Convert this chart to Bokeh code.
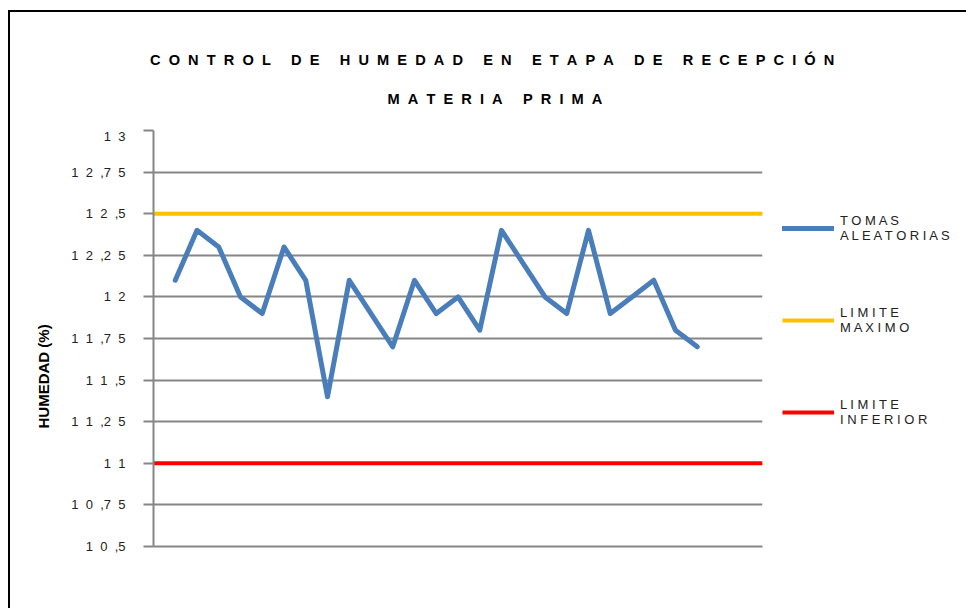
from bokeh.plotting import figure
from bokeh.layouts import row, column
from bokeh.models import Legend, LegendItem, Title, FixedTicker
from bokeh.embed import file_html
from bokeh.resources import INLINE

# ---- data ----
SAMPLE = list(range(1, 26))
HUMEDAD = [12.1, 12.4, 12.3, 12.0, 11.9, 12.3, 12.1, 11.4, 12.1, 11.9, 11.7, 12.1, 11.9,
           12.0, 11.8, 12.4, 12.2, 12.0, 11.9, 12.4, 11.9, 12.0, 12.1, 11.8, 11.7]
LIMITE_MAXIMO = 12.5
LIMITE_INFERIOR = 11.0
Y_TICKS = [10.5, 10.75, 11.0, 11.25, 11.5, 11.75, 12.0, 12.25, 12.5, 12.75, 13.0]
Y_TICK_LABELS = ["1 0 ,5", "1 0 ,7 5", "1 1", "1 1 ,2 5", "1 1 ,5", "1 1 ,7 5",
                 "1 2", "1 2 ,2 5", "1 2 ,5", "1 2 ,7 5", "1 3"]
X_START, X_END = 0, 28
Y_START, Y_END = 10.5, 13.0
TITLE_1 = "CONTROL DE HUMEDAD EN ETAPA DE RECEPCIÓN"
TITLE_2 = "MATERIA PRIMA"
Y_LABEL = "HUMEDAD (%)"
SERIES_NAMES = ["TOMAS ALEATORIAS", "LIMITE MAXIMO", "LIMITE INFERIOR"]
SERIES_COLORS = ["#4A7EBB", "#FFC000", "#FF0000"]
SERIES_WIDTHS = [5, 4, 4]

NB = "\u00a0"  # non-collapsing space, keeps the wide letter spacing of the original
NAN = float("nan")


def spaced(s, gap, wordgap):
    return wordgap.join(gap.join(w) for w in s.split(" "))


FONT = "Liberation Sans"
GRID = "#868686"


def blank(fig):
    fig.grid.visible = False
    fig.outline_line_color = None
    fig.background_fill_color = "white"
    fig.border_fill_color = "white"


# ---------------- title strip ----------------
tf = figure(width=956, height=116, x_range=(0, 1), y_range=(0, 1),
            x_axis_location=None, y_axis_location=None,
            output_backend="svg", toolbar_location=None,
            min_border_left=143, min_border_right=204, min_border_top=115, min_border_bottom=0)
blank(tf)
tf.add_layout(Title(text=spaced(TITLE_2, NB * 2, NB * 5), align="left", offset=234,
                    vertical_align="bottom", standoff=42, text_font=FONT, text_font_size="14.6px",
                    text_font_style="bold", text_color="black"), "above")
tf.add_layout(Title(text=spaced(TITLE_1, NB * 2, NB * 5), align="left", offset=-3.5,
                    vertical_align="bottom", standoff=0, text_font=FONT, text_font_size="14.6px",
                    text_font_style="bold", text_color="black"), "above")

# ---------------- main plot ----------------
p = figure(width=757, height=480, x_range=(X_START, X_END), y_range=(Y_START, Y_END),
           output_backend="svg", toolbar_location=None,
           min_border_left=143, min_border_top=2, min_border_right=5, min_border_bottom=62)
blank(p)
p.ygrid.visible = True

# y axis
p.yaxis.ticker = FixedTicker(ticks=Y_TICKS)
p.yaxis.major_label_overrides = {t: l.replace(" ", NB * 2) for t, l in zip(Y_TICKS, Y_TICK_LABELS)}
p.yaxis.axis_line_color = GRID
p.yaxis.axis_line_width = 2
p.yaxis.major_tick_line_color = GRID
p.yaxis.major_tick_line_width = 2
p.yaxis.major_tick_out = 10
p.yaxis.major_tick_in = 0
p.yaxis.minor_tick_line_color = None
p.yaxis.major_label_standoff = 18
p.yaxis.major_label_text_font = FONT
p.yaxis.major_label_text_font_size = "13px"
p.yaxis.major_label_text_color = "#222222"
p.ygrid.grid_line_color = GRID
p.ygrid.grid_line_width = 2
p.ygrid.ticker = FixedTicker(ticks=Y_TICKS)

# x axis: line only
p.xaxis.ticker = FixedTicker(ticks=[])
p.xaxis.axis_line_color = GRID
p.xaxis.axis_line_width = 2
p.xaxis.major_tick_line_color = None
p.xaxis.minor_tick_line_color = None

# series
p.line(SAMPLE, HUMEDAD, line_width=SERIES_WIDTHS[0], line_color=SERIES_COLORS[0],
       line_join="round", line_cap="round")
p.line([X_START, X_END], [LIMITE_MAXIMO, LIMITE_MAXIMO], line_width=SERIES_WIDTHS[1],
       line_color=SERIES_COLORS[1])
p.line([X_START, X_END], [LIMITE_INFERIOR, LIMITE_INFERIOR], line_width=SERIES_WIDTHS[2],
       line_color=SERIES_COLORS[2])

# y axis title
p.add_layout(Title(text=Y_LABEL, align="left", offset=118, vertical_align="top", standoff=30,
                   text_font=FONT, text_font_size="15px", text_font_style="bold",
                   text_color="black"), "left")

# ---------------- legend panel (right of the plot) ----------------
lg = figure(width=199, height=480, x_range=(0, 1), y_range=(0, 1),
            x_axis_location=None, y_axis_location=None,
            output_backend="svg", toolbar_location=None,
            min_border_left=0, min_border_right=0, min_border_top=0, min_border_bottom=0)
blank(lg)

legend_renderers = [lg.line([NAN], [NAN], line_color=c, line_width=w,
                            line_cap="round" if i == 0 else "butt")
                    for i, (c, w) in enumerate(zip(SERIES_COLORS, SERIES_WIDTHS))]
items = [LegendItem(label="\n".join(spaced(w, " ", " ") for w in name.split(" ")), renderers=[r])
         for name, r in zip(SERIES_NAMES, legend_renderers)]
legend = Legend(items=items, location=(15, 119), orientation="vertical", padding=0, margin=0,
                spacing=62, glyph_width=52, glyph_height=12, label_standoff=6,
                border_line_color=None, background_fill_alpha=0,
                label_text_font=FONT, label_text_font_size="13px", label_text_color="#222222")
lg.add_layout(legend, "center")

layout = column(tf, row(p, lg))
layout.margin = (10, 0, 0, 8)
layout.styles = {"border-left": "2px solid black", "border-top": "2px solid black"}

open("out.html", "w").write(file_html(layout, INLINE))
